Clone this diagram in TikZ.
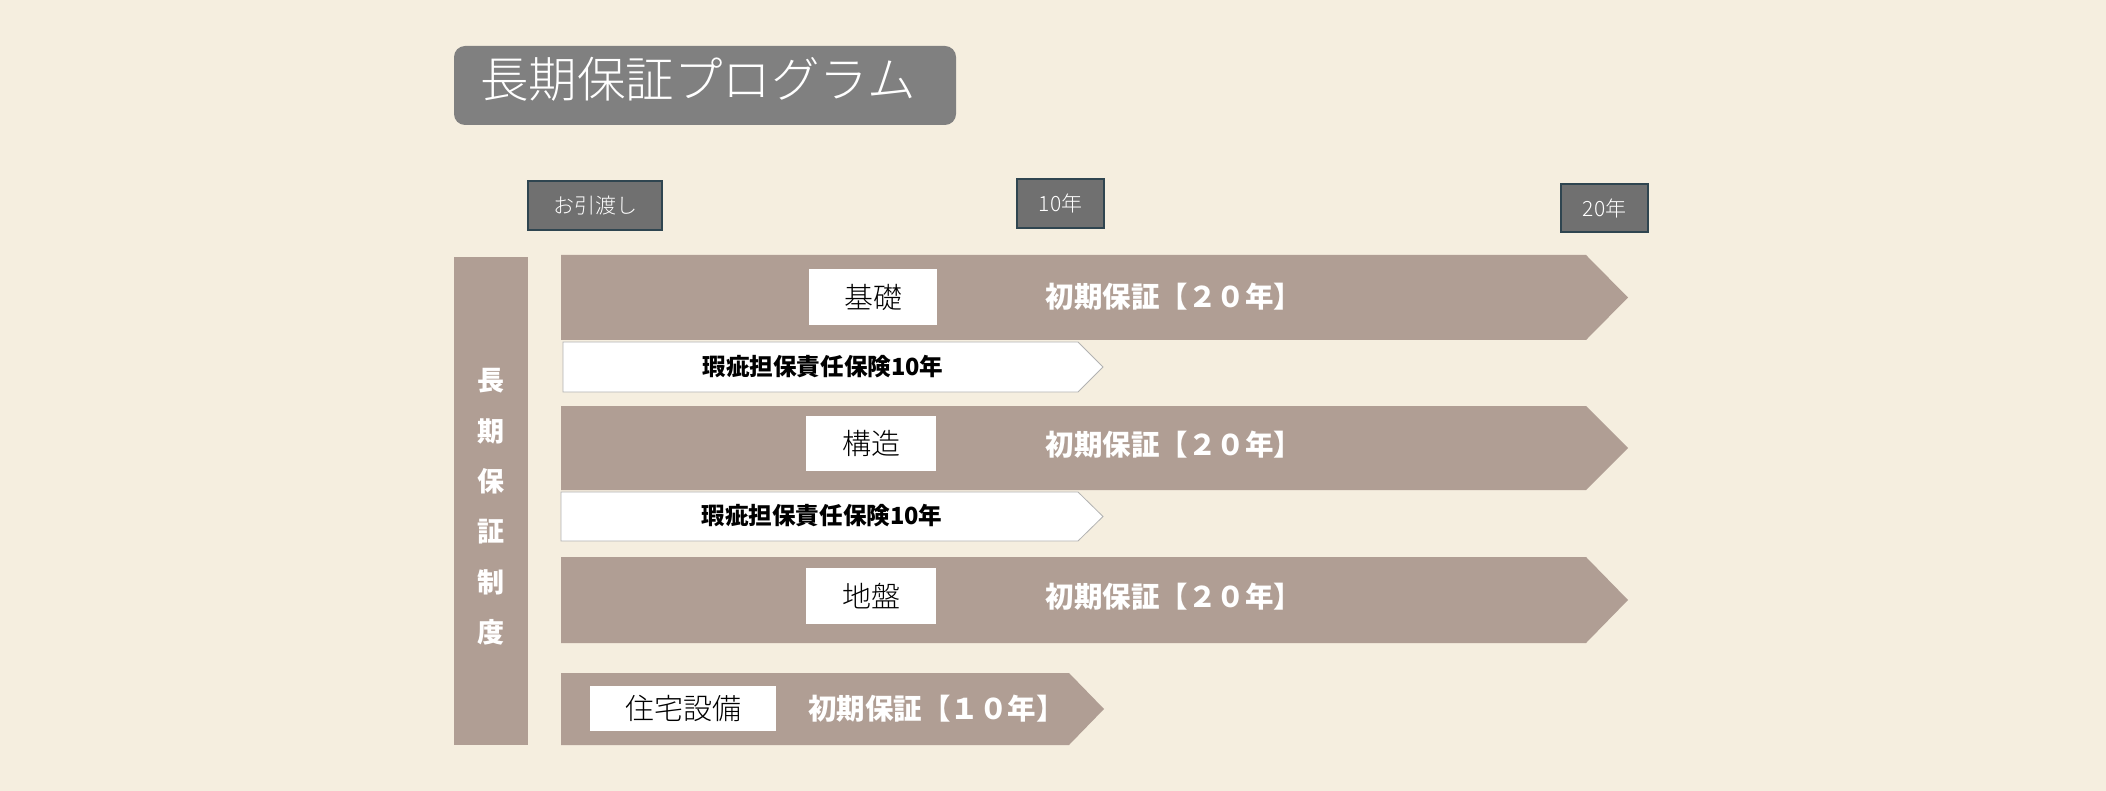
\documentclass[tikz,border=0pt]{standalone}
\usepackage{fontspec}
\setmainfont{Noto Sans CJK JP}
\newfontfamily\lightcjk{Noto Sans CJK JP Light}
\definecolor{bg}{HTML}{F5EEDF}
\definecolor{barbrown}{HTML}{B09E94}
\definecolor{titlegray}{HTML}{808080}
\definecolor{markgray}{HTML}{707070}
\definecolor{markline}{HTML}{2F4550}
\tikzset{bar/.style={fill=barbrown}}
\tikzset{insurance/.style={fill=white,draw=gray!60,line width=0.8pt}}
\tikzset{partbox/.style={fill=white,inner sep=0pt,font=\lightcjk\fontsize{29}{30}\selectfont}}
\tikzset{yearmark/.style={fill=markgray,draw=markline,line width=1.2pt,text=white,inner sep=0pt,font=\lightcjk\fontsize{21}{22}\selectfont}}
\tikzset{term/.style={text=white,inner sep=0pt,font=\bfseries\fontsize{28.5}{30}\selectfont}}
\tikzset{instext/.style={inner sep=0pt,font=\bfseries\fontsize{23.6}{26}\selectfont}}

\begin{document}
\begin{tikzpicture}[x=1pt,y=-1pt]
    \useasboundingbox[fill=bg] (0,0) rectangle (2106,791);
    % title
    \node[fill=titlegray,rounded corners=11pt,minimum width=502pt,minimum height=79pt,inner sep=0pt] (title) at (705,85.5) {};
    \node[text=white,font=\lightcjk\fontsize{48.5}{50}\selectfont] (titletext) at (698,79) {長期保証プログラム};
    % time marks
    \node[yearmark,minimum width=134pt,minimum height=49pt] (handover) at (595,205.5) {お引渡し};
    \node[yearmark,minimum width=87pt,minimum height=49pt] (ten) at (1060.5,203.5) {10年};
    \node[yearmark,minimum width=87pt,minimum height=48pt] (twenty) at (1604.5,208) {20年};
    % left label
    \node[bar,minimum width=74pt,minimum height=488pt,inner sep=0pt] (system) at (491,501) {};
    \node[text=white,align=center,font=\bfseries\fontsize{27}{50.4}\selectfont] (systemtext) at (491,507) {長\\期\\保\\証\\制\\度};
    % bars
    \fill[bar] (561,255) -- (1586,255) -- (1628,297.5) -- (1586,340) -- (561,340) -- cycle;
    \draw[insurance] (563,342) -- (1078,342) -- (1103,367) -- (1078,392) -- (563,392) -- cycle;
    \fill[bar] (561,406) -- (1586,406) -- (1628,448) -- (1586,490) -- (561,490) -- cycle;
    \draw[insurance] (561,492) -- (1078,492) -- (1103,516.5) -- (1078,541) -- (561,541) -- cycle;
    \fill[bar] (561,557) -- (1586,557) -- (1628,600) -- (1586,643) -- (561,643) -- cycle;
    \fill[bar] (561,673) -- (1069,673) -- (1104,709) -- (1069,745) -- (561,745) -- cycle;
    % parts
    \node[partbox,minimum width=128pt,minimum height=56pt] (base) at (873,297) {基礎};
    \node[term] (baseterm) at (1174,297) {初期保証【２０年】};
    \node[instext] (ins1) at (823,367) {瑕疵担保責任保険10年};
    \node[partbox,minimum width=130pt,minimum height=55pt] (frame) at (871,443.5) {構造};
    \node[term] (frameterm) at (1174,445) {初期保証【２０年】};
    \node[instext] (ins2) at (822,516) {瑕疵担保責任保険10年};
    \node[partbox,minimum width=130pt,minimum height=56pt] (ground) at (871,596) {地盤};
    \node[term] (groundterm) at (1174,597) {初期保証【２０年】};
    \node[partbox,minimum width=186pt,minimum height=45pt] (equip) at (683,708.5) {住宅設備};
    \node[term] (equipterm) at (936.5,709) {初期保証【１０年】};
\end{tikzpicture}
\end{document}
